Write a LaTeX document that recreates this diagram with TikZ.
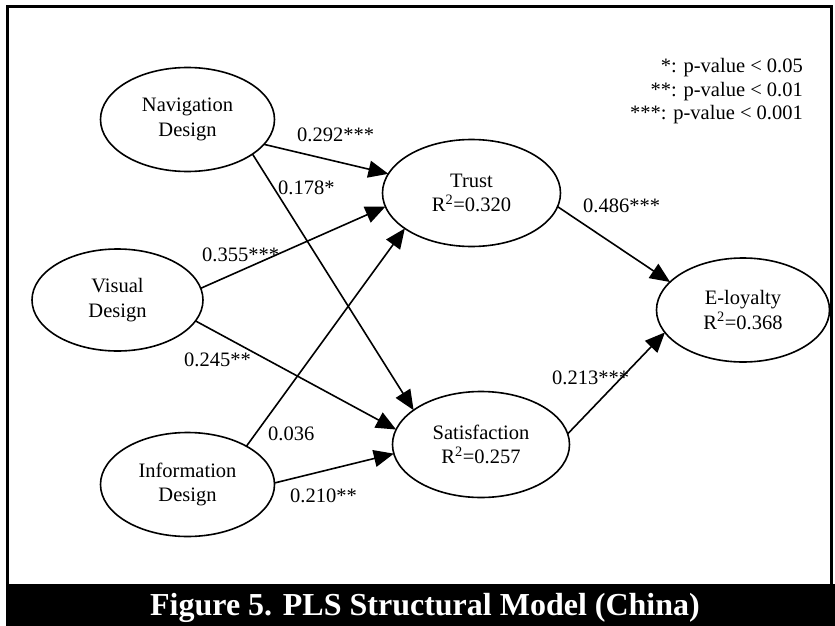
\documentclass[tikz,border=0pt]{standalone}
\usepackage{fontspec}
\setmainfont{Liberation Serif}
\usetikzlibrary{arrows.meta,shapes.geometric}
\begin{document}
\begin{tikzpicture}[x=1pt,y=-1pt,
  latent/.style 2 args={ellipse, draw, line width=1.6pt, outer sep=0pt, inner sep=0pt,
    minimum width=#1pt, minimum height=#2pt, align=center,
    font=\fontsize{20.5}{24.6}\selectfont},
  coef/.style={inner sep=0pt, anchor=base west, font=\fontsize{20.5}{24.6}\selectfont},
  legend/.style={inner sep=0pt, anchor=base east, font=\fontsize{20.5}{24.6}\selectfont},
  path/.style={line width=1.6pt, -{Triangle[length=20pt,width=17pt]}}]
\useasboundingbox (0,0) rectangle (835,626);
% frame and caption band
\draw[line width=3pt] (7.5,584) -- (7.5,6.5) -- (831.5,6.5) -- (831.5,584);
\fill[black] (6,584) rectangle (835,626);
\node[inner sep=0pt, anchor=base, text=white, font=\fontsize{32}{38}\selectfont\bfseries] (cap) at (425,615) {Figure 5. PLS Structural Model (China)};
% latent variables
\node[latent={174}{104}] (nav) at (187.5,119.5) {Navigation\\Design};
\node[latent={171}{102}] (vis) at (117.5,300) {Visual\\Design};
\node[latent={174}{104}] (inf) at (187.5,484.5) {Information\\Design};
\node[latent={178}{107}] (tru) at (471.5,193) {Trust\\R\textsuperscript{2}=0.320};
\node[latent={177}{106}] (sat) at (481,444.5) {Satisfaction\\R\textsuperscript{2}=0.257};
\node[latent={173}{104}] (elo) at (743,310) {E-loyalty\\R\textsuperscript{2}=0.368};
% paths
\draw[path] (nav.-18.9) -- (tru.167.5);
\draw[path] (nav.-28.8) -- (sat.153.7);
\draw[path] (vis.8) -- (tru.189.5);
\draw[path] (vis.-15.3) -- (sat.170.7);
\draw[path] (inf.33.1) -- (tru.208.5);
\draw[path] (inf.1) -- (sat.186.8);
\draw[path] (tru.-9.8) -- (elo.159.5);
\draw[path] (sat.7.5) -- (elo.196.8);
% coefficients
\node[coef] (c1) at (297,141.5) {0.292***};
\node[coef] (c2) at (278,194) {0.178*};
\node[coef] (c3) at (202,261) {0.355***};
\node[coef] (c4) at (184,366) {0.245**};
\node[coef] (c5) at (268,440) {0.036};
\node[coef] (c6) at (290,502) {0.210**};
\node[coef] (c7) at (583,212) {0.486***};
\node[coef] (c8) at (552,384) {0.213***};
% legend
\node[legend] (l1) at (803,72) {*: p-value \textless{} 0.05};
\node[legend] (l2) at (803,96) {**: p-value \textless{} 0.01};
\node[legend] (l3) at (803,119) {***: p-value \textless{} 0.001};
\end{tikzpicture}
\end{document}
